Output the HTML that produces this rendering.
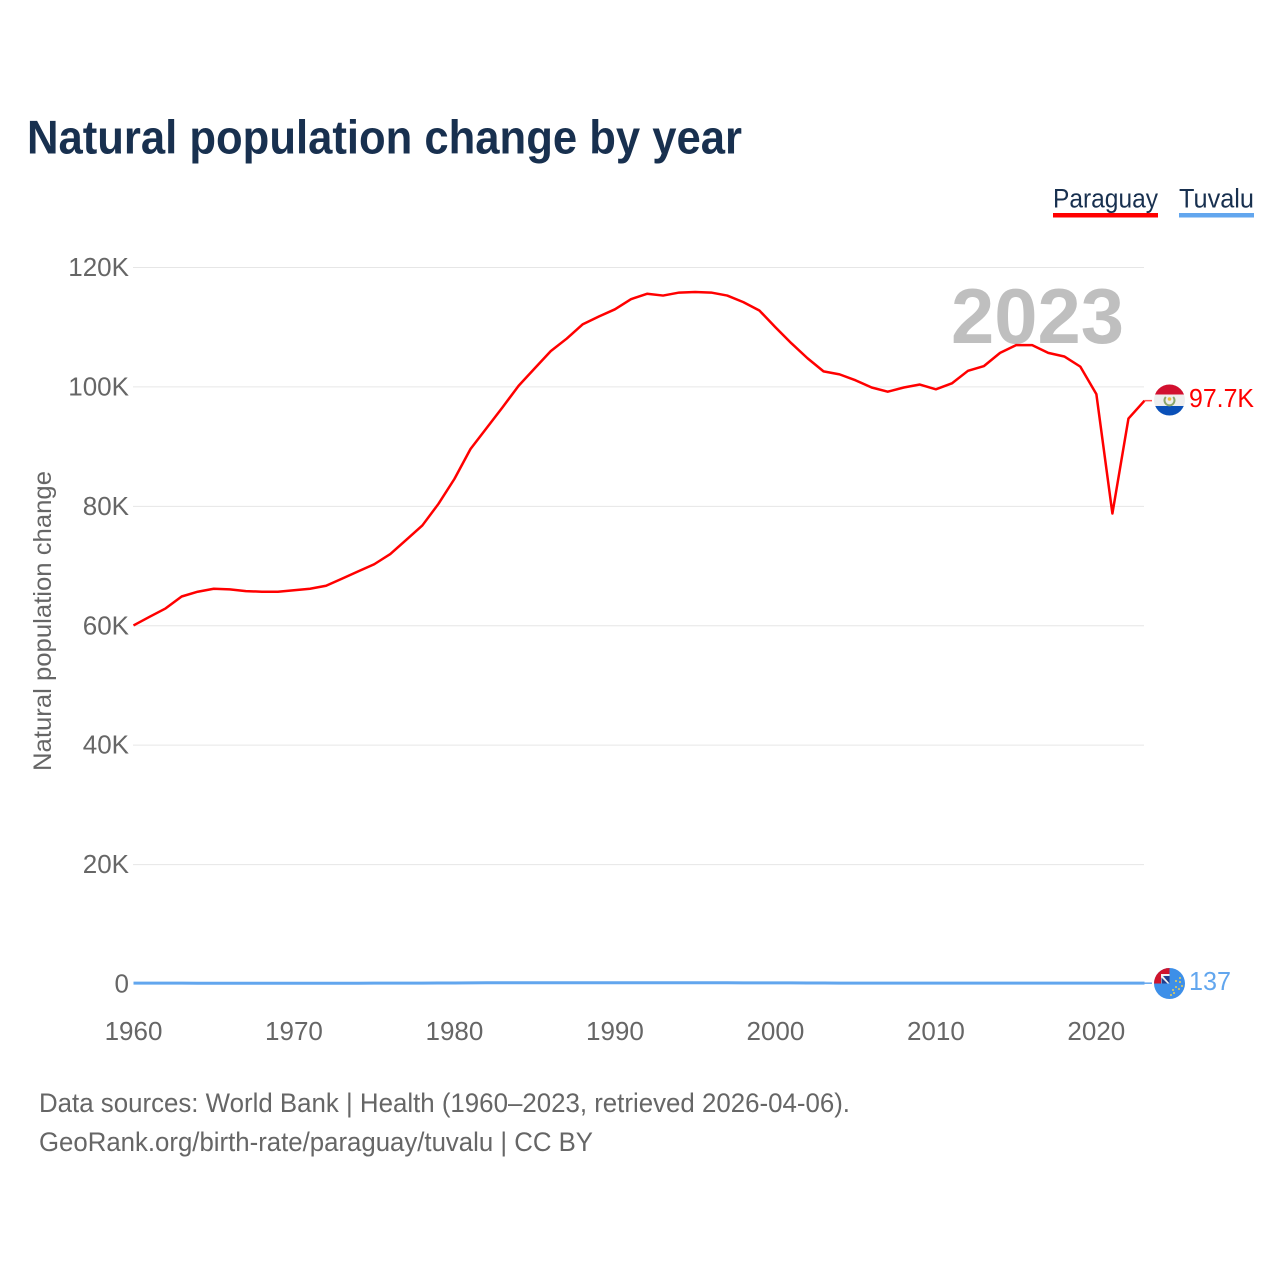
<!DOCTYPE html>
<html>
<head>
<meta charset="utf-8">
<title>Natural population change by year</title>
<style>
html,body{margin:0;padding:0;background:#fff;width:1280px;height:1280px;overflow:hidden}
svg{display:block;font-family:"Liberation Sans",sans-serif}
</style>
</head>
<body>
<svg id="chart" xmlns="http://www.w3.org/2000/svg" width="1280" height="1280" viewBox="0 0 1280 1280">
  <rect width="1280" height="1280" fill="#fff"/>
  <text x="27" y="153.5" font-size="47" font-weight="700" fill="#18304f" textLength="715" lengthAdjust="spacingAndGlyphs">Natural population change by year</text>

  <g>
    <g>
      <text x="1053" y="207.5" font-size="27" fill="#18304f" textLength="105" lengthAdjust="spacingAndGlyphs">Paraguay</text>
      <rect x="1053" y="213" width="105" height="4.5" fill="#ff0000"/>
    </g>
    <g>
      <text x="1179" y="207.5" font-size="27" fill="#18304f" textLength="75" lengthAdjust="spacingAndGlyphs">Tuvalu</text>
      <rect x="1179" y="213" width="75" height="4.5" fill="#62a6ee"/>
    </g>
  </g>

  <g id="grid"></g>
  <g id="yticks"></g>
  <g id="xticks"></g>

  <text transform="translate(51,771) rotate(-90)" font-size="25" fill="#666" textLength="300" lengthAdjust="spacingAndGlyphs">Natural population change</text>

  <text x="951" y="343" font-size="78" font-weight="700" fill="#bfbfbf" textLength="173" lengthAdjust="spacingAndGlyphs">2023</text>

  <g id="series"></g>

  <defs>
    <clipPath id="clip-py"><circle cx="1169.5" cy="400" r="15.5"/></clipPath>
    <clipPath id="clip-tv"><circle cx="1169.5" cy="983.5" r="15.5"/></clipPath>
  </defs>

  <g clip-path="url(#clip-py)">
    <rect x="1154" y="384" width="31" height="10.5" fill="#d2102f"/>
    <rect x="1154" y="394.5" width="31" height="11.5" fill="#eeeeee"/>
    <rect x="1154" y="406" width="31" height="10" fill="#0a50b8"/>
    <path d="M1165.8 397 A5 5 0 1 0 1173.2 397" fill="none" stroke="#8aa56a" stroke-width="2"/>
    <circle cx="1169.5" cy="399" r="1.8" fill="#e8c040"/>
  </g>

  <g clip-path="url(#clip-tv)">
    <rect x="1154" y="968" width="31" height="31" fill="#3d8fe8"/>
    <rect x="1154" y="968" width="15.5" height="15.5" fill="#d0142c"/>
    <rect x="1161" y="974" width="8.5" height="9.5" fill="#f0f0f0"/>
    <path d="M1163 976 L1169.5 976 L1169.5 983.5 Z M1161.5 977.5 L1161.5 983.5 L1167.5 983.5 Z" fill="#1f3f8f"/>
    <g fill="#e9cf55">
      <circle cx="1180" cy="978" r="1"/><circle cx="1176" cy="981" r="1"/><circle cx="1180" cy="982" r="1"/>
      <circle cx="1182" cy="986" r="1"/><circle cx="1176" cy="987" r="1"/><circle cx="1179" cy="989" r="1"/>
      <circle cx="1173" cy="990" r="1"/><circle cx="1174" cy="993" r="1"/><circle cx="1171" cy="995" r="1"/>
    </g>
  </g>

  <text x="1189" y="407" font-size="26" fill="#ff0000" textLength="65" lengthAdjust="spacingAndGlyphs">97.7K</text>
  <text x="1189" y="990" font-size="26" fill="#62a6ee" textLength="42" lengthAdjust="spacingAndGlyphs">137</text>

  <text x="39" y="1112" font-size="27" fill="#666" textLength="811" lengthAdjust="spacingAndGlyphs">Data sources: World Bank | Health (1960–2023, retrieved 2026-04-06).</text>
  <text x="39" y="1151" font-size="27" fill="#666" textLength="554" lengthAdjust="spacingAndGlyphs">GeoRank.org/birth-rate/paraguay/tuvalu | CC BY</text>
</svg>

<script>
const startYear = 1960;
const paraguay = [60.05,61.5,62.9,64.9,65.7,66.2,66.1,65.8,65.7,65.7,65.95,66.2,66.7,67.9,69.1,70.3,72.0,74.4,76.8,80.4,84.6,89.6,93.1,96.6,100.2,103.1,106.0,108.1,110.5,111.8,113.0,114.7,115.6,115.3,115.8,115.9,115.8,115.3,114.2,112.8,110.0,107.3,104.8,102.6,102.1,101.1,99.9,99.2,99.9,100.4,99.6,100.6,102.7,103.5,105.7,107.0,107.0,105.7,105.1,103.4,98.8,78.8,94.7,97.7];
const tuvalu = [0.15,0.15,0.15,0.15,0.12,0.12,0.12,0.12,0.12,0.12,0.12,0.12,0.12,0.12,0.12,0.14,0.14,0.14,0.15,0.16,0.17,0.18,0.2,0.2,0.2,0.2,0.2,0.22,0.22,0.22,0.22,0.22,0.22,0.22,0.22,0.22,0.2,0.2,0.18,0.18,0.18,0.18,0.17,0.16,0.15,0.14,0.14,0.14,0.14,0.14,0.14,0.14,0.15,0.15,0.15,0.15,0.15,0.15,0.15,0.15,0.15,0.14,0.14,0.137];
const yTickValues = [0,20,40,60,80,100,120];
const yTickLabels = ["0","20K","40K","60K","80K","100K","120K"];
const xTickYears = [1960,1970,1980,1990,2000,2010,2020];

const NS = "http://www.w3.org/2000/svg";
const xScale = year => 133.5 + (year - 1960) * (1144.5 - 133.5) / 63;
const yScale = k => 984 - k * (984 - 267.5) / 120;

const gridGroup = document.getElementById("grid");
const yGroup = document.getElementById("yticks");
const xGroup = document.getElementById("xticks");
const seriesGroup = document.getElementById("series");

yTickValues.forEach((v, i) => {
  if (v !== 0) {
    const line = document.createElementNS(NS, "line");
    
    
    line.setAttribute("x1", 133);
    line.setAttribute("x2", 1144);
    line.setAttribute("y1", yScale(v));
    line.setAttribute("y2", yScale(v));
    line.setAttribute("stroke", "#e6e6e6");
    line.setAttribute("stroke-width", "1");
    gridGroup.appendChild(line);
  }
  const label = document.createElementNS(NS, "text");
  
  
  label.setAttribute("x", 129);
  label.setAttribute("y", yScale(v) + 8.5);
  label.setAttribute("text-anchor", "end");
  label.setAttribute("font-size", "26");
  label.setAttribute("fill", "#666");
  label.textContent = yTickLabels[i];
  yGroup.appendChild(label);
});

xTickYears.forEach(year => {
  const label = document.createElementNS(NS, "text");
  
  
  label.setAttribute("x", xScale(year));
  label.setAttribute("y", 1040);
  label.setAttribute("text-anchor", "middle");
  label.setAttribute("font-size", "26");
  label.setAttribute("fill", "#666");
  label.textContent = String(year);
  xGroup.appendChild(label);
});

function pathFor(values) {
  return values.map((v, i) => (i ? "L" : "M") + xScale(startYear + i).toFixed(2) + " " + yScale(v).toFixed(2)).join(" ");
}

const tuvaluLine = document.createElementNS(NS, "path");


tuvaluLine.setAttribute("d", pathFor(tuvalu));
tuvaluLine.setAttribute("fill", "none");
tuvaluLine.setAttribute("stroke", "#62a6ee");
tuvaluLine.setAttribute("stroke-width", "3");
seriesGroup.appendChild(tuvaluLine);

const paraguayLine = document.createElementNS(NS, "path");


paraguayLine.setAttribute("d", pathFor(paraguay));
paraguayLine.setAttribute("fill", "none");
paraguayLine.setAttribute("stroke", "#ff0000");
paraguayLine.setAttribute("stroke-width", "2.5");
paraguayLine.setAttribute("stroke-linejoin", "round");
seriesGroup.appendChild(paraguayLine);

const tuvaluConnector = document.createElementNS(NS, "line");


tuvaluConnector.setAttribute("x1", xScale(2023));
tuvaluConnector.setAttribute("x2", 1152);
tuvaluConnector.setAttribute("y1", yScale(tuvalu[tuvalu.length - 1]));
tuvaluConnector.setAttribute("y2", yScale(tuvalu[tuvalu.length - 1]));
tuvaluConnector.setAttribute("stroke", "#62a6ee");
tuvaluConnector.setAttribute("stroke-width", "1.5");
seriesGroup.appendChild(tuvaluConnector);

const paraguayConnector = document.createElementNS(NS, "line");


paraguayConnector.setAttribute("x1", xScale(2023));
paraguayConnector.setAttribute("x2", 1152);
paraguayConnector.setAttribute("y1", yScale(paraguay[paraguay.length - 1]));
paraguayConnector.setAttribute("y2", yScale(paraguay[paraguay.length - 1]));
paraguayConnector.setAttribute("stroke", "#ff5050");
paraguayConnector.setAttribute("stroke-width", "1.5");
seriesGroup.appendChild(paraguayConnector);
</script>
</body>
</html>
